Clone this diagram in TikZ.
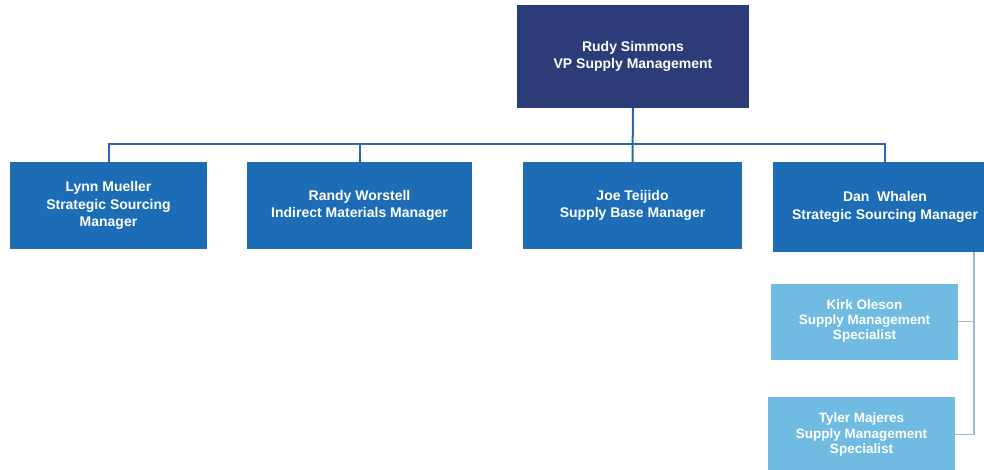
\documentclass[tikz,border=0pt]{standalone}
\usepackage{fontspec}
\setmainfont{Liberation Sans}
\definecolor{navy}{HTML}{2B3C78}
\definecolor{midblue}{HTML}{1C6CB6}
\definecolor{lightblue}{HTML}{70BBE2}
\definecolor{linkblue}{HTML}{2A68AE}
\definecolor{thinlink}{HTML}{9DB9D2}
\begin{document}
\begin{tikzpicture}[x=1pt,y=-1pt,
  box/.style={rectangle,inner sep=0pt,text=white,align=center,font=\bfseries\fontsize{14}{17.5}\selectfont},
  topbox/.style={box,fill=navy,minimum width=232pt,minimum height=103pt},
  midbox/.style={box,fill=midblue,minimum height=87pt},
  lowbox/.style={box,fill=lightblue,minimum width=187pt,minimum height=76pt,font=\bfseries\fontsize{13.5}{15}\selectfont},
  link/.style={draw=linkblue,line width=2pt},
  thin/.style={draw=thinlink,line width=1.2pt}]
\useasboundingbox (0,0) rectangle (984,469);
\fill[white] (0,0) rectangle (984,469);
\node[topbox] (vp) at (633,56.5) {Rudy Simmons\\VP Supply Management};
\node[midbox,minimum width=197pt] (lynn) at (108.5,205.5) {Lynn Mueller\\Strategic Sourcing\\Manager};
\node[midbox,minimum width=225pt] (randy) at (359.5,205.5) {Randy Worstell\\Indirect Materials Manager};
\node[midbox,minimum width=219pt] (joe) at (632.5,205.5) {Joe Teijido\\Supply Base Manager};
\node[midbox,minimum width=224pt,minimum height=90pt] (dan) at (885,207) {Dan\ \ Whalen\\Strategic Sourcing Manager};
\node[lowbox] (kirk) at (864.5,321.5) {Kirk Oleson\\Supply Management\\Specialist};
\node[lowbox,minimum width=187pt,minimum height=75pt] (tyler) at (861.5,434.5) {Tyler Majeres\\Supply Management\\Specialist};
\coordinate (bus) at (633,144);
\coordinate (spine) at (974,252);
\draw[link] (vp.south) -- (joe.north);
\draw[link] (lynn.north) -- (lynn.north |- bus) -- (dan.north |- bus) -- (dan.north);
\draw[link] (randy.north) -- (randy.north |- bus);
\draw[thin] (spine) -- (spine |- tyler.east) -- (tyler.east);
\draw[thin] (kirk.east) -- (kirk.east -| spine);
\end{tikzpicture}
\end{document}
